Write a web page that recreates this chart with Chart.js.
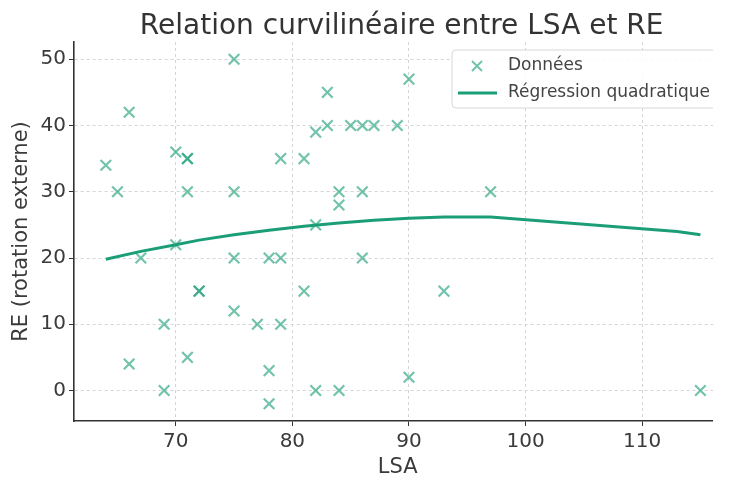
<!DOCTYPE html>
<html>
<head>
<meta charset="utf-8">
<script src="https://cdn.jsdelivr.net/npm/chart.js@4.4.1/dist/chart.umd.min.js"></script>
<style>
  body { margin: 0; background: #fff; }
  #wrap { width: 713px; height: 484px; overflow: hidden; }
</style>
</head>
<body>
<div id="wrap"><canvas id="myChart" width="731" height="484"></canvas></div>
<script>
// Données
const lsa = [64, 65, 66, 66, 67, 69, 69, 70, 70, 71, 71, 71, 71, 72, 72, 75, 75, 75, 75, 77, 78, 78, 78,
             79, 79, 79, 81, 81, 82, 82, 82, 83, 83, 84, 84, 84, 85, 86, 86, 86, 87, 89, 90, 90, 93, 97, 115];
const re  = [34, 30, 42, 4, 20, 10, 0, 36, 22, 35, 35, 30, 5, 15, 15, 50, 30, 20, 12, 10, 20, 3, -2,
             35, 20, 10, 35, 15, 39, 25, 0, 45, 40, 30, 28, 0, 40, 40, 30, 20, 40, 40, 47, 2, 15, 30, 0];

// Courbe de régression quadratique (valeurs lues)
const fitLsa = [64, 67, 70, 72, 75, 78, 81, 84, 87, 90, 93, 97, 113, 115];
const fitRe  = [19.8, 21.0, 22.0, 22.7, 23.5, 24.2, 24.8, 25.3, 25.7, 26.0, 26.2, 26.2, 24.0, 23.5];

const xTicks = [70, 80, 90, 100, 110];
const yTicks = [0, 10, 20, 30, 40, 50];

const titre = 'Relation curvilinéaire entre LSA et RE';
const legendeLabels = ['Données', 'Régression quadratique'];

const vert = '#1b9e77';
const vertClair = 'rgba(27, 158, 119, 0.62)';
const police = 'DejaVu Sans';

const points = lsa.map((x, i) => ({x: x, y: re[i]}));
const courbe = fitLsa.map((x, i) => ({x: x, y: fitRe[i]}));

// Titre centré sur la zone du graphique + légende dans le coin
const decor = {
    id: 'decor',
    afterDraw(chart) {
        const c = chart.ctx;
        const a = chart.chartArea;
        c.save();
        c.fillStyle = '#333';
        c.font = '28px "' + police + '"';
        c.textAlign = 'center';
        c.textBaseline = 'alphabetic';
        c.fillText(titre, (a.left + a.right) / 2 + 4, 34);

        // légende
        c.font = '17px "' + police + '"';
        const tx = 508;
        const w = Math.max(...legendeLabels.map(t => c.measureText(t).width));
        const bx = 452, by = 50, bw = tx + w + 9 - bx, bh = 58;
        c.fillStyle = 'rgba(255,255,255,0.85)';
        c.strokeStyle = '#d8d8d8';
        c.lineWidth = 1;
        c.beginPath();
        c.roundRect(bx, by, bw, bh, 4);
        c.fill();
        c.stroke();

        c.strokeStyle = vertClair;
        c.lineWidth = 2;
        const mx = 477, my = 66, r = 5;
        c.beginPath();
        c.moveTo(mx - r, my - r); c.lineTo(mx + r, my + r);
        c.moveTo(mx - r, my + r); c.lineTo(mx + r, my - r);
        c.stroke();

        c.strokeStyle = vert;
        c.lineWidth = 3;
        c.beginPath();
        c.moveTo(458, 93); c.lineTo(497, 93);
        c.stroke();

        c.fillStyle = '#444';
        c.textAlign = 'left';
        c.textBaseline = 'middle';
        c.fillText(legendeLabels[0], tx, 66);
        c.fillText(legendeLabels[1], tx, 93);
        c.restore();
    }
};

const ctx = document.getElementById('myChart').getContext('2d');
const chart = new Chart(ctx, {
    type: 'scatter',
    data: {
        datasets: [
            {
                label: legendeLabels[0],
                data: points,
                pointStyle: 'crossRot',
                pointRadius: 7.5,
                pointBorderWidth: 2.2,
                borderColor: vertClair,
                backgroundColor: vertClair,
                order: 2
            },
            {
                label: legendeLabels[1],
                data: courbe,
                showLine: true,
                borderColor: vert,
                borderWidth: 3,
                pointRadius: 0,
                tension: 0,
                order: 1
            }
        ]
    },
    options: {
        responsive: false,
        animation: false,
        layout: { padding: { top: 42, right: 0, bottom: 0, left: 0 } },
        plugins: {
            legend: { display: false },
            title: { display: false },
            tooltip: { enabled: false }
        },
        scales: {
            x: {
                type: 'linear',
                min: 61.27,
                max: 116.79,
                afterFit: s => { s.height = 63; },
                afterBuildTicks: s => { s.ticks = xTicks.map(v => ({value: v})); },
                grid: { color: '#d4d4d4', tickColor: '#333', tickLength: 5, tickBorderDash: [], lineWidth: 1 },
                border: { display: true, color: '#333', width: 1.6, dash: [3, 3] },
                ticks: { color: '#3a3a3a', padding: 4, font: { family: police, size: 20 }, maxRotation: 0 },
                title: { display: true, text: 'LSA', color: '#3a3a3a', font: { family: police, size: 21 }, padding: { top: 0, bottom: 4 } }
            },
            y: {
                type: 'linear',
                min: -4.6,
                max: 52.6,
                afterFit: s => { s.width = 74; },
                afterBuildTicks: s => { s.ticks = yTicks.map(v => ({value: v})); },
                grid: { color: '#d4d4d4', tickColor: '#333', tickLength: 5, tickBorderDash: [], lineWidth: 1 },
                border: { display: true, color: '#333', width: 1.6, dash: [3, 3] },
                ticks: { color: '#3a3a3a', padding: 3, font: { family: police, size: 20 } },
                title: { display: true, text: 'RE (rotation externe)', color: '#3a3a3a', font: { family: police, size: 21 }, padding: { top: 9, bottom: 0 } }
            }
        }
    },
    plugins: [decor]
});
</script>
</body>
</html>
